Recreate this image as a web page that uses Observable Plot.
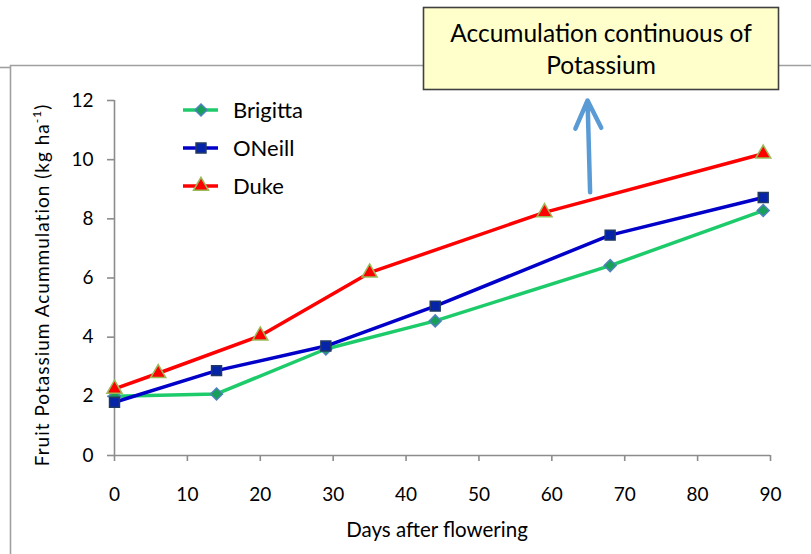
<!DOCTYPE html>
<html>
<head>
<meta charset="utf-8">
<script src="https://cdn.jsdelivr.net/npm/d3@7"></script>
<script src="https://cdn.jsdelivr.net/npm/@observablehq/plot@0.6"></script>
<style>
  body { margin: 0; background: #fff; }
  #chart { width: 811px; height: 554px; }
  svg { overflow: visible; }
</style>
</head>
<body>
<div id="chart"></div>
<script>
// Cultivars and their styling
const seriesNames = ["Brigitta", "ONeill", "Duke"];
const lineColors = ["#1ecb6b", "#0000c8", "#ff0000"];
const markerFills = ["#17a058", "#0524a8", "#ff0000"];
const markerStrokes = ["#4f81bd", "#1f3864", "#9bbb59"];
const markerSymbols = ["diamond2", "square", "triangle"];

// Fruit potassium accumulation (kg ha-1) by days after flowering
const brigittaDays = [0, 14, 29, 44, 68, 89];
const brigittaK = [2.0, 2.08, 3.6, 4.55, 6.42, 8.28];
const oneillDays = [0, 14, 29, 44, 68, 89];
const oneillK = [1.8, 2.87, 3.7, 5.05, 7.45, 8.72];
const dukeDays = [0, 6, 20, 35, 59, 89];
const dukeK = [2.25, 2.78, 4.05, 6.18, 8.22, 10.2];

// Axis ticks
const xTicks = [0, 10, 20, 30, 40, 50, 60, 70, 80, 90];
const yTicks = [0, 2, 4, 6, 8, 10, 12];

// Callout text and its arrow (in days / kg ha-1)
const noteLines = ["Accumulation continuous of", "Potassium"];
const noteArrow = [{x1: 65.25, y1: 8.9, x2: 64.9, y2: 12.0}];

const days = [brigittaDays, oneillDays, dukeDays];
const values = [brigittaK, oneillK, dukeK];
const rows = seriesNames.flatMap((name, i) =>
  days[i].map((d, j) => ({series: name, day: d, k: values[i][j]}))
);

const font = "Lato, 'Open Sans', sans-serif";
const axisGray = "#8c8c8c";
const markerR = [5.4, 5.6, 5.6];

const chart = Plot.plot({
  width: 811,
  height: 554,
  marginLeft: 114,
  marginRight: 41,
  marginTop: 100,
  marginBottom: 99,
  style: {fontFamily: font, fontSize: "19px", color: "#000", background: "transparent"},
  x: {domain: [0, 90]},
  y: {domain: [0, 12]},
  color: {domain: seriesNames, range: lineColors},
  symbol: {domain: seriesNames, range: markerSymbols},
  marks: [
    Plot.axisX({ticks: xTicks, tickSize: 6, tickPadding: 26, stroke: axisGray, strokeWidth: 1.6, fill: "#000", label: null, fontSize: 19}),
    Plot.axisY({ticks: yTicks, tickSize: 7, tickPadding: 14, stroke: axisGray, strokeWidth: 1.6, fill: "#000", label: null, fontSize: 19}),
    Plot.ruleY([0], {stroke: axisGray, strokeWidth: 1.6}),
    Plot.ruleX([0], {stroke: axisGray, strokeWidth: 1.6}),
    Plot.line(rows, {x: "day", y: "k", z: "series", stroke: "series", strokeWidth: 3.5, curve: "linear"}),
    ...seriesNames.map((name, i) =>
      Plot.dot(rows.filter(d => d.series === name), {
        x: "day", y: "k", symbol: "series", r: markerR[i],
        fill: markerFills[i], stroke: markerStrokes[i], strokeWidth: 1.5
      })
    ),
    Plot.arrow(noteArrow, {x1: "x1", y1: "y1", x2: "x2", y2: "y2", stroke: "#5b9bd5", strokeWidth: 4.5, headLength: 21, headAngle: 50, bend: 0})
  ]
});

document.getElementById("chart").appendChild(chart);

const svg = d3.select(chart);

// Outer frame lines
const frame = svg.insert("g", ":first-child").attr("stroke", "#a0a0a0").attr("stroke-width", 1.6).attr("fill", "none");
frame.append("path").attr("d", "M10.5,554 V65.5 H811");
frame.append("path").attr("d", "M0,67.5 H10.5");

// Y axis title
const ytitle = svg.append("text")
  .attr("transform", "translate(49,285) rotate(-90)")
  .attr("text-anchor", "middle")
  .attr("font-family", font)
  .attr("font-size", 19)
  .attr("letter-spacing", "1px")
  .attr("fill", "#000");
ytitle.append("tspan").text("Fruit Potassium Acummulation (kg ha");
ytitle.append("tspan").attr("font-size", 12).attr("dy", -8).text("-1");
ytitle.append("tspan").attr("dy", 8).text(")");

// X axis title
svg.append("text")
  .attr("x", 437).attr("y", 537)
  .attr("text-anchor", "middle")
  .attr("font-family", font)
  .attr("font-size", 20.5)
  .attr("fill", "#000")
  .text("Days after flowering");

// Legend
const legend = svg.append("g");
seriesNames.forEach((name, i) => {
  const y = 110 + i * 38;
  const g = legend.append("g").attr("transform", `translate(0,${y})`);
  g.append("line").attr("x1", 183).attr("x2", 218).attr("y1", 0).attr("y2", 0)
    .attr("stroke", lineColors[i]).attr("stroke-width", 3.5);
  const sym = {diamond2: d3.symbolDiamond2, square: d3.symbolSquare, triangle: d3.symbolTriangle}[markerSymbols[i]];
  const size = Math.PI * markerR[i] * markerR[i];
  g.append("path").attr("transform", "translate(201,0)")
    .attr("d", d3.symbol(sym, size)())
    .attr("fill", markerFills[i]).attr("stroke", markerStrokes[i]).attr("stroke-width", 1.5);
  g.append("text").attr("x", 233).attr("y", 0).attr("dy", "0.35em")
    .attr("text-anchor", "start")
    .attr("font-family", font).attr("font-size", 22).attr("fill", "#000").text(name);
});

// Callout box
const note = svg.append("g");
note.append("rect").attr("x", 423.5).attr("y", 7.5).attr("width", 355).attr("height", 82)
  .attr("fill", "#ffffcc").attr("stroke", "#404040").attr("stroke-width", 1.6);
noteLines.forEach((t, i) => {
  note.append("text").attr("x", 601).attr("y", 33 + i * 32).attr("dy", "0.35em")
    .attr("text-anchor", "middle").attr("font-family", font).attr("font-size", 24.5)
    .attr("fill", "#000").text(t);
});
</script>
</body>
</html>
